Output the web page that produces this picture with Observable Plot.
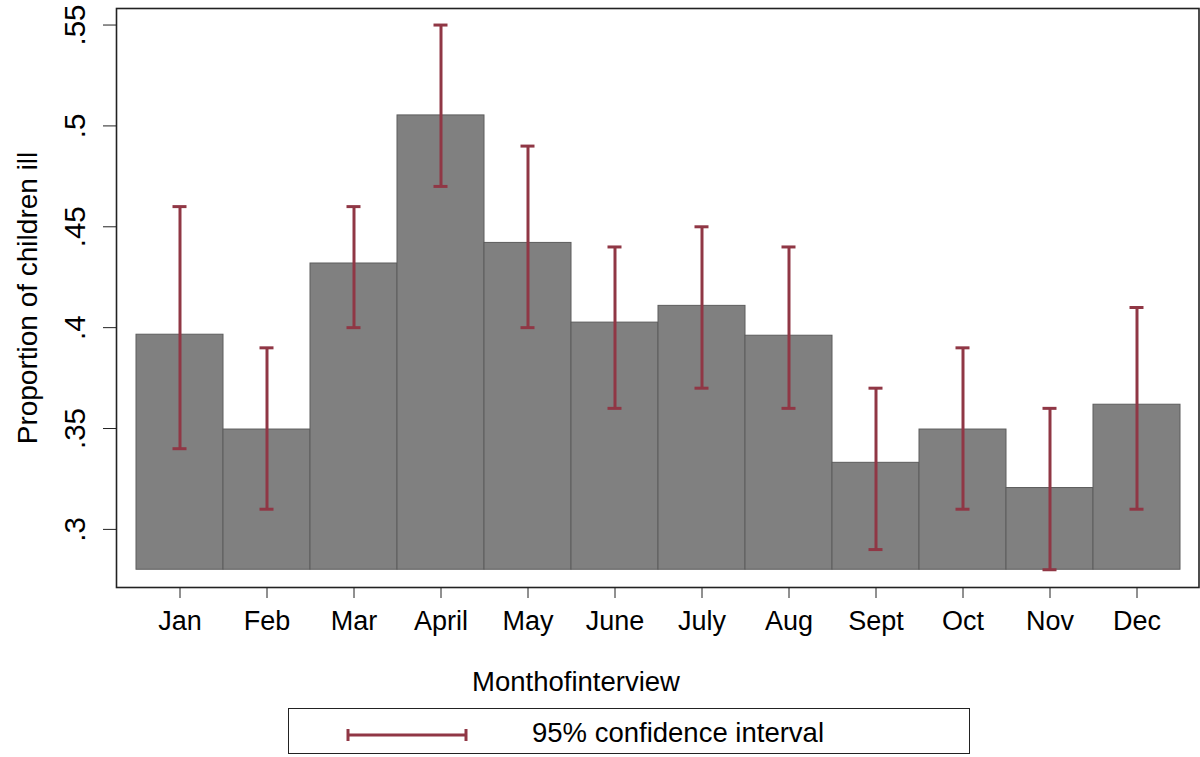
<!DOCTYPE html>
<html>
<head>
<meta charset="utf-8">
<script src="https://cdn.jsdelivr.net/npm/d3@7"></script>
<script src="https://cdn.jsdelivr.net/npm/@observablehq/plot@0.6"></script>
<style>
  html, body { margin: 0; padding: 0; background: #fff; }
  #wrap { position: relative; width: 1200px; height: 757px; font-family: "Liberation Sans", Arial, Helvetica, sans-serif; color: #000; }
  #xtitle { position: absolute; left: 576px; top: 666px; transform: translateX(-50%); font-size: 27.5px; white-space: nowrap; }
  #legend { position: absolute; left: 288px; top: 708px; width: 682px; height: 46px; border: 1.5px solid #222; box-sizing: border-box; }
  #legend svg { position: absolute; left: 56px; top: 18px; }
  #legend .lab { position: absolute; left: 243px; top: 8px; font-size: 27.5px; white-space: nowrap; }
</style>
</head>
<body>
<div id="wrap"></div>
<script>
const months = ["Jan","Feb","Mar","April","May","June","July","Aug","Sept","Oct","Nov","Dec"];
const proportion = [0.3965, 0.3495, 0.4318, 0.5052, 0.4420, 0.4025, 0.4108, 0.3960, 0.3330, 0.3495, 0.3205, 0.3618];
const ciLow  = [0.34, 0.31, 0.40, 0.47, 0.40, 0.36, 0.37, 0.36, 0.29, 0.31, 0.28, 0.31];
const ciHigh = [0.46, 0.39, 0.46, 0.55, 0.49, 0.44, 0.45, 0.44, 0.37, 0.39, 0.36, 0.41];
const baseValue = 0.28;
const yTicks = [0.3, 0.35, 0.4, 0.45, 0.5, 0.55];
const yTickLabels = [".3", ".35", ".4", ".45", ".5", ".55"];
const yTitle = "Proportion of children ill";
const xTitle = "Monthofinterview";
const legendLabel = "95% confidence interval";

const data = months.map((m, i) => ({month: m, value: proportion[i], lo: ciLow[i], hi: ciHigh[i]}));
const tickRows = yTicks.map((v, i) => ({v, label: yTickLabels[i]}));
const ciColor = "#903745";

const chart = Plot.plot({
  width: 1200,
  height: 700,
  marginLeft: 116,
  marginRight: 1.5,
  marginTop: 8,
  marginBottom: 113,
  style: {fontFamily: "'Liberation Sans', Arial, Helvetica, sans-serif", background: "#fff", color: "#000"},
  x: {type: "band", domain: months, padding: 0, insetLeft: 19, insetRight: 17.7, label: null},
  y: {domain: [0.2712, 0.5582], label: null},
  marks: [
    Plot.barY(data, {x: "month", y1: baseValue, y2: "value", fill: "#808080", stroke: "#5c5c5c", strokeWidth: 1, inset: 0}),
    Plot.ruleX(data, {x: "month", y1: "lo", y2: "hi", stroke: ciColor, strokeWidth: 3}),
    Plot.tickY(data, {x: "month", y: "lo", stroke: ciColor, strokeWidth: 3, insetLeft: 36.5, insetRight: 36.5}),
    Plot.tickY(data, {x: "month", y: "hi", stroke: ciColor, strokeWidth: 3, insetLeft: 36.5, insetRight: 36.5}),
    Plot.frame({stroke: "#222", strokeWidth: 1.6}),
    Plot.axisX({tickSize: 11, tickPadding: 12, fontSize: 27, label: null, stroke: "#222"}),
    Plot.axisY({ticks: yTicks, tickSize: 13, tickFormat: () => "", label: null, stroke: "#222"}),
    Plot.text(tickRows, {y: "v", text: "label", frameAnchor: "left", textAnchor: "middle", lineAnchor: "middle", dx: -41, rotate: -90, fontSize: 29.5, fill: "#000"}),
    Plot.text([yTitle], {frameAnchor: "left", textAnchor: "middle", lineAnchor: "middle", dx: -88, rotate: -90, fontSize: 28, fill: "#000"})
  ]
});

const wrap = document.getElementById("wrap");
wrap.appendChild(chart);

const xt = document.createElement("div");
xt.id = "xtitle";
xt.textContent = xTitle;
wrap.appendChild(xt);

const legend = document.createElement("div");
legend.id = "legend";
legend.innerHTML = `<svg width="124" height="16"><line x1="3" y1="8" x2="121" y2="8" stroke="${ciColor}" stroke-width="3"/><line x1="3" y1="2" x2="3" y2="14" stroke="${ciColor}" stroke-width="3"/><line x1="121" y1="2" x2="121" y2="14" stroke="${ciColor}" stroke-width="3"/></svg><span class="lab"></span>`;
legend.querySelector(".lab").textContent = legendLabel;
wrap.appendChild(legend);
</script>
</body>
</html>
